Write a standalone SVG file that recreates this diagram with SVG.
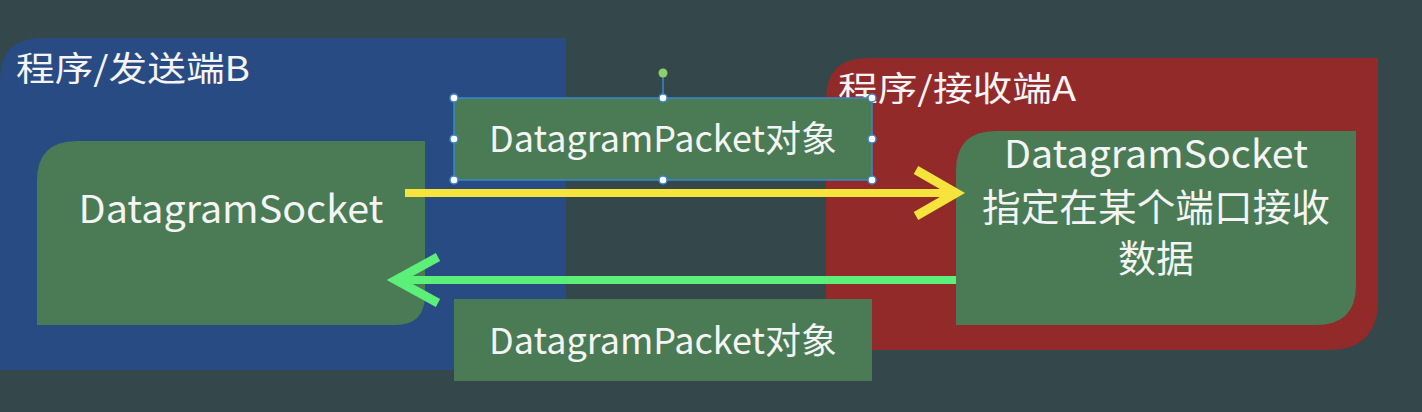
<svg xmlns="http://www.w3.org/2000/svg" width="1422" height="412" viewBox="0 0 1422 412">
<defs>
<style>
.t{font-family:"Noto Sans CJK SC","Liberation Sans",sans-serif;fill:#f4f4f4;}
.title{font-size:34px;}
.big{font-size:38px;text-anchor:middle;}
.pk{font-size:36px;text-anchor:middle;}
.gbox{fill:#4a7b55;}
.h{fill:#ffffff;stroke:#3a86cc;stroke-width:1.5;}
</style>
</defs>
<rect x="0" y="0" width="1422" height="412" fill="#34474a"/>
<g id="sender">
<path d="M0,80 Q0,38 42,38 L566,38 L566,370 L0,370 Z" fill="#294b84"/>
<text class="t title" x="16" y="81" textLength="234" lengthAdjust="spacingAndGlyphs">程序/发送端B</text>
</g>
<g id="receiver">
<path d="M868,58 L1378,58 L1378,300 Q1378,350 1328,350 L826,350 L826,100 Q826,58 868,58 Z" fill="#932a2a"/>
<text class="t title" x="838" y="101" textLength="238" lengthAdjust="spacingAndGlyphs">程序/接收端A</text>
</g>
<g id="socketB">
<path d="M77,141 L425,141 L425,295 Q425,325 395,325 L37,325 L37,181 Q37,141 77,141 Z" class="gbox"/>
<text class="t big" x="231" y="223" textLength="305" lengthAdjust="spacingAndGlyphs">DatagramSocket</text>
</g>
<g id="socketA">
<path d="M996,131 L1356,131 L1356,285 Q1356,325 1316,325 L956,325 L956,171 Q956,131 996,131 Z" class="gbox"/>
<text class="t big" x="1156" y="168" textLength="304" lengthAdjust="spacingAndGlyphs">DatagramSocket</text>
<text class="t big" x="1156" y="221" textLength="348" lengthAdjust="spacingAndGlyphs">指定在某个端口接收</text>
<text class="t big" x="1156" y="272">数据</text>
</g>
<g id="connectors" fill="none" stroke-linecap="butt">
<line x1="405" y1="193" x2="952" y2="193" stroke="#f6e43c" stroke-width="8"/>
<polyline points="916,170 956,193 916,216" stroke="#f6e43c" stroke-width="9" stroke-linejoin="miter"/>
<line x1="956" y1="280" x2="396" y2="280" stroke="#5cef7a" stroke-width="8"/>
<polyline points="438,257 396,280 438,303" stroke="#5cef7a" stroke-width="9" stroke-linejoin="miter"/>
</g>
<g id="packetTop">
<rect x="454" y="98" width="418" height="82" class="gbox" stroke="#3a86cc" stroke-width="1.5"/>
<text class="t pk" x="663" y="152" textLength="348" lengthAdjust="spacingAndGlyphs">DatagramPacket对象</text>
<line x1="663" y1="98" x2="663" y2="74" stroke="#3a86cc" stroke-width="1.5"/>
<circle cx="663" cy="73" r="4.5" fill="#8fcf6a"/>
<circle cx="454" cy="98" r="4" class="h"/>
<circle cx="663" cy="98" r="4" class="h"/>
<circle cx="872" cy="98" r="4" class="h"/>
<circle cx="454" cy="139" r="4" class="h"/>
<circle cx="872" cy="139" r="4" class="h"/>
<circle cx="454" cy="180" r="4" class="h"/>
<circle cx="663" cy="180" r="4" class="h"/>
<circle cx="872" cy="180" r="4" class="h"/>
</g>
<g id="packetBottom">
<rect x="454" y="299" width="418" height="82" class="gbox"/>
<text class="t pk" x="663" y="354" textLength="348" lengthAdjust="spacingAndGlyphs">DatagramPacket对象</text>
</g>
</svg>
